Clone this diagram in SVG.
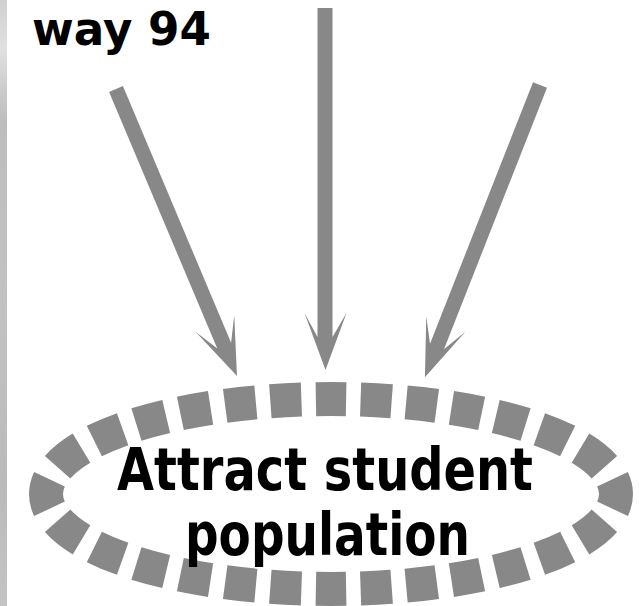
<svg xmlns="http://www.w3.org/2000/svg" width="639" height="606" viewBox="0 0 639 606">
  <defs>
    <linearGradient id="strip" x1="0" y1="0" x2="0" y2="1">
      <stop offset="0" stop-color="#d0d0d0"/>
      <stop offset="0.08" stop-color="#e0e0e0"/>
      <stop offset="0.2" stop-color="#bdbdbd"/>
      <stop offset="0.5" stop-color="#c2c2c2"/>
      <stop offset="0.8" stop-color="#bababa"/>
      <stop offset="1" stop-color="#c4c4c4"/>
    </linearGradient>
  </defs>
  <style>
    .arrow { fill: #888888; }
    .label { font-family: "DejaVu Sans", "Liberation Sans", sans-serif; font-weight: bold; fill: #000000; }
    .ring { fill: none; stroke: #888888; stroke-width: 34; }
  </style>
  <rect x="0" y="0" width="639" height="606" fill="#ffffff"/>
  <rect x="0" y="0" width="7" height="606" fill="url(#strip)"/>

  <g id="label-way94">
    <text class="label" x="32" y="45" font-size="46" textLength="179" lengthAdjust="spacingAndGlyphs">way 94</text>
  </g>

  <g id="connectors">
    <polygon class="arrow" transform="translate(116,89) rotate(-22.86)" points="-7.5,0 7.5,0 7.5,278.5 21,254.5 0,311.5 -21,254.5 -7.5,278.5"/>
    <polygon class="arrow" points="317.5,8 332.5,8 332.5,337 346.5,313 325.5,370 304.5,313 317.5,337"/>
    <polygon class="arrow" transform="translate(540,85) rotate(21.5)" points="-7.5,0 7.5,0 7.5,281 21,257 0,314 -21,257 -7.5,281"/>
  </g>

  <g id="node-attract">
    <ellipse class="ring" cx="331" cy="494" rx="285" ry="95" pathLength="28" stroke-dasharray="0.68 0.32" stroke-dashoffset="0.34"/>
    <text class="label" x="117" y="490" font-size="58" textLength="416" lengthAdjust="spacingAndGlyphs">Attract student</text>
    <text class="label" x="185" y="555" font-size="58" textLength="285" lengthAdjust="spacingAndGlyphs">population</text>
  </g>
</svg>
